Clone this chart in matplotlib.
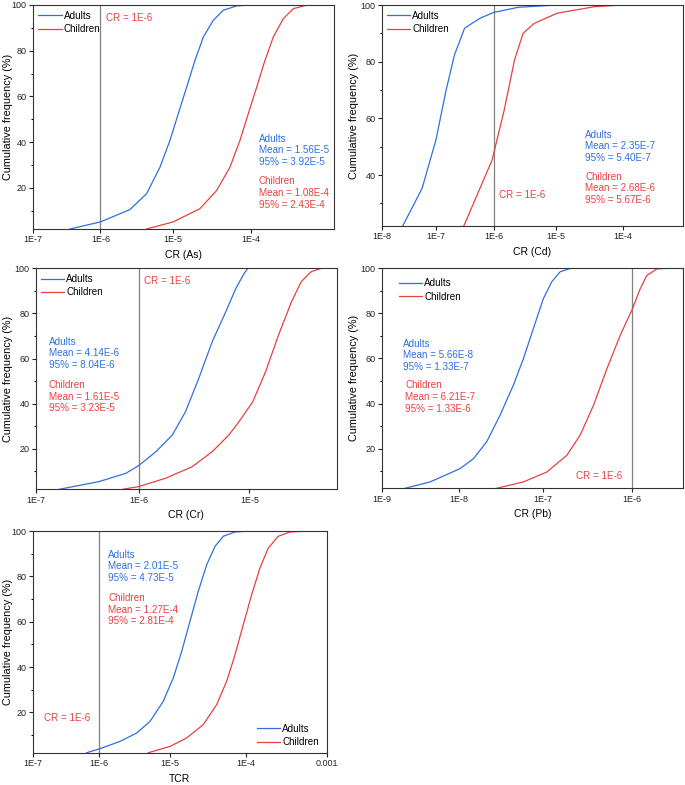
import numpy as np
import matplotlib
matplotlib.use('Agg')
import matplotlib.pyplot as plt
from matplotlib.ticker import FixedLocator

plt.rcParams['font.family'] = ['Liberation Sans', 'DejaVu Sans']

BLUE = '#2f6fe0'
RED = '#e8403f'

# ---- data: (CR value, cumulative %) ----
as_adult_x = [3.61e-7, 1e-6, 2.6e-6, 4.41e-6, 6.68e-6, 9.09e-6, 1.172e-5, 1.511e-5, 1.94e-5, 2.49e-5, 3.35e-5, 4.49e-5, 6.64e-5, 1.07e-4, 1.6e-4]
as_adult_y = [2, 5.1, 10.5, 17.5, 29.1, 40.8, 52.5, 64.1, 75.8, 86, 93.3, 97.7, 99.6, 100, 100]
as_child_x = [4.41e-6, 1e-5, 2.25e-5, 3.7e-5, 5.46e-5, 7.29e-5, 9.27e-5, 1.179e-4, 1.491e-4, 1.886e-4, 2.495e-4, 3.3e-4, 4.77e-4, 9.7e-4]
as_child_y = [2, 5.1, 10.9, 18.9, 29.1, 40.8, 52.5, 64.1, 75.8, 86, 94, 98.4, 99.9, 100]

cd_adult_x = [2.5e-8, 5.7e-8, 1.01e-7, 1.53e-7, 2.14e-7, 3.2e-7, 5.8e-7, 1e-6, 2.5e-6, 1e-5, 7e-4]
cd_adult_y = [22, 35.3, 52.4, 70, 82.4, 91.8, 95.3, 97.4, 99.2, 100, 100]
cd_child_x = [3.1e-7, 9.35e-7, 1.48e-6, 2.18e-6, 3.0e-6, 4.5e-6, 1.03e-5, 3.8e-5, 1e-4, 7e-4]
cd_child_y = [22, 45.3, 62.9, 80.6, 90, 93.5, 97.1, 99.4, 100, 100]

cr_adult_x = [1.72e-7, 4.2e-7, 7.6e-7, 1e-6, 1.45e-6, 2.05e-6, 2.7e-6, 3.56e-6, 4.7e-6, 6.2e-6, 7.6e-6, 9.0e-6, 9.7e-6]
cr_adult_y = [2, 5.4, 9.1, 12.5, 18.7, 26.1, 36.4, 51.2, 67.5, 80.8, 91.1, 97.8, 100]
cr_child_x = [7.1e-7, 1e-6, 1.78e-6, 3.1e-6, 4.7e-6, 6.6e-6, 8.1e-6, 1.07e-5, 1.38e-5, 1.78e-5, 2.3e-5, 2.78e-5, 3.37e-5, 4.1e-5, 5.5e-5]
cr_child_y = [2, 3.2, 6.9, 12, 18.7, 26.1, 32, 40.9, 54.2, 70.4, 85.2, 94.1, 98.5, 100, 100]

pb_adult_x = [2.04e-9, 4.3e-9, 1.026e-8, 1.5e-8, 2.18e-8, 3.16e-8, 4.55e-8, 5.97e-8, 7.82e-8, 1.022e-7, 1.278e-7, 1.591e-7, 2.07e-7]
pb_adult_y = [2.4, 5.2, 11.1, 15.5, 23, 34.8, 48.1, 59.8, 73.2, 86.5, 94, 98.4, 99.9]
pb_child_x = [2.88e-8, 5.97e-8, 1.119e-7, 1.897e-7, 2.68e-7, 3.78e-7, 5.32e-7, 7.44e-7, 1.013e-6, 1.227e-6, 1.448e-6, 1.852e-6, 2.56e-6, 3.5e-6]
pb_child_y = [2.4, 5.2, 9.6, 17, 25.9, 39.1, 55.3, 70.1, 82, 90.8, 96.8, 99.7, 100, 100]

tcr_adult_x = [6.68e-7, 1.05e-6, 2.04e-6, 3.51e-6, 5.39e-6, 8.21e-6, 1.124e-5, 1.46e-5, 1.886e-5, 2.43e-5, 3.14e-5, 4.03e-5, 5.17e-5, 7.32e-5, 1.14e-4]
tcr_adult_y = [2.2, 4.0, 7.2, 10.9, 16, 24.9, 35.2, 46.9, 60.2, 73.4, 85.1, 93.2, 97.7, 99.6, 100]
tcr_child_x = [5.1e-6, 1.014e-5, 1.7e-5, 2.83e-5, 4.24e-5, 5.72e-5, 7.32e-5, 9.35e-5, 1.195e-4, 1.52e-4, 1.933e-4, 2.575e-4, 3.59e-4, 6.3e-4, 1e-3]
tcr_child_y = [2.2, 5, 8.7, 14.6, 23.4, 33.7, 45.4, 58.7, 71.9, 83.7, 92.5, 97.7, 99.6, 100, 100]

xlabels = ['CR (As)', 'CR (Cd)', 'CR (Cr)', 'CR (Pb)', 'TCR']
xlims = [(1e-7, 1e-3), (1e-8, 7.2e-4), (1e-7, 5.5e-5), (1e-9, 3.5e-6), (1e-7, 1e-3)]
ylims = [(2, 100), (22, 100), (2, 100), (2.4, 100), (2.2, 100)]
xtick_vals = [[1e-7, 1e-6, 1e-5, 1e-4],
              [1e-8, 1e-7, 1e-6, 1e-5, 1e-4],
              [1e-7, 1e-6, 1e-5],
              [1e-9, 1e-8, 1e-7, 1e-6],
              [1e-7, 1e-6, 1e-5, 1e-4, 1e-3]]
xtick_labels = [['1E-7', '1E-6', '1E-5', '1E-4'],
                ['1E-8', '1E-7', '1E-6', '1E-5', '1E-4'],
                ['1E-7', '1E-6', '1E-5'],
                ['1E-9', '1E-8', '1E-7', '1E-6'],
                ['1E-7', '1E-6', '1E-5', '1E-4', '0.001']]
adult_text = [('1.56E-5', '3.92E-5'), ('2.35E-7', '5.40E-7'), ('4.14E-6', '8.04E-6'),
              ('5.66E-8', '1.33E-7'), ('2.01E-5', '4.73E-5')]
child_text = [('1.08E-4', '2.43E-4'), ('2.68E-6', '5.67E-6'), ('1.61E-5', '3.23E-5'),
              ('6.21E-7', '1.33E-6'), ('1.27E-4', '2.81E-4')]
curves = [(as_adult_x, as_adult_y, as_child_x, as_child_y),
          (cd_adult_x, cd_adult_y, cd_child_x, cd_child_y),
          (cr_adult_x, cr_adult_y, cr_child_x, cr_child_y),
          (pb_adult_x, pb_adult_y, pb_child_x, pb_child_y),
          (tcr_adult_x, tcr_adult_y, tcr_child_x, tcr_child_y)]

# layout (fig fractions) and text placement (axes fractions)
rects = [(0.0482, 0.7083, 0.4394, 0.2854),
         (0.5572, 0.7121, 0.4399, 0.2815),
         (0.0521, 0.3767, 0.4394, 0.2815),
         (0.5572, 0.3780, 0.4399, 0.2803),
         (0.0477, 0.0411, 0.4292, 0.2824)]
ylabel_x = [-0.0664, -0.0754, -0.0754, -0.0754, -0.067]
adult_pos = [(0.75, 0.425), (0.675, 0.435), (0.044, 0.69), (0.07, 0.68), (0.257, 0.915)]
child_pos = [(0.75, 0.235), (0.675, 0.245), (0.044, 0.495), (0.078, 0.49), (0.257, 0.72)]
cr_pos = [(0.243, 0.94), (0.39, 0.14), (0.36, 0.944), (0.645, 0.056), (0.04, 0.155)]
legend_loc = ['upper left', 'upper left', 'upper left', 'upper left', 'lower right']
legend_anchor = [(-0.01, 1.01), (-0.01, 1.01), (-0.01, 1.01), (0.03, 0.99), (1.0, -0.01)]

WARP = 0.04


def warped_log(x0):
    l0 = np.log10(x0)

    def fwd(x):
        u = np.log10(np.clip(x, 1e-30, None)) - l0
        return u + WARP * u * u

    def inv(w):
        u = (-1 + np.sqrt(np.clip(1 + 4 * WARP * w, 0, None))) / (2 * WARP)
        return 10 ** (u + l0)
    return fwd, inv


fig = plt.figure(figsize=(6.85, 7.85), dpi=100)

for i in range(5):
    ax = fig.add_axes(rects[i])
    ax_x, ax_y, ch_x, ch_y = curves[i]
    ax.set_xscale('function', functions=warped_log(xlims[i][0]))
    ax.plot(ax_x, ax_y, color=BLUE, lw=0.9, label='Adults')
    ax.plot(ch_x, ch_y, color=RED, lw=0.9, label='Children')
    ax.axvline(1e-6, color='#808080', lw=0.9, zorder=1)
    ax.set_xlim(*xlims[i])
    ax.set_ylim(*ylims[i])
    ax.xaxis.set_major_locator(FixedLocator(xtick_vals[i]))
    ax.set_xticklabels(xtick_labels[i])
    ax.xaxis.set_minor_locator(FixedLocator([]))
    ymaj = [v for v in [20, 40, 60, 80, 100] if v >= ylims[i][0]]
    ymin = [v for v in [10, 30, 50, 70, 90] if v >= ylims[i][0]]
    ax.yaxis.set_major_locator(FixedLocator(ymaj))
    ax.yaxis.set_minor_locator(FixedLocator(ymin))
    ax.tick_params(which='major', direction='out', length=3, width=0.8,
                   labelsize=6.5, pad=1.5, colors='#222222')
    ax.tick_params(which='minor', direction='out', length=1.8, width=0.8)
    for sp in ax.spines.values():
        sp.set_linewidth(0.8)
        sp.set_color('#333333')
    ax.set_xlabel(xlabels[i], fontsize=7.5, labelpad=4)
    ax.set_ylabel('Cumulative frequency (%)', fontsize=7.8)
    ax.yaxis.set_label_coords(ylabel_x[i], 0.5)

    ax.text(*adult_pos[i], 'Adults\nMean = %s\n95%% = %s' % adult_text[i],
            transform=ax.transAxes, color=BLUE, fontsize=7.1, va='top',
            ha='left', linespacing=1.2)
    ax.text(*child_pos[i], 'Children\nMean = %s\n95%% = %s' % child_text[i],
            transform=ax.transAxes, color=RED, fontsize=7.1, va='top',
            ha='left', linespacing=1.2)
    ax.text(*cr_pos[i], 'CR = 1E-6', transform=ax.transAxes, color=RED,
            fontsize=7.1, va='center', ha='left')
    ax.legend(loc=legend_loc[i], bbox_to_anchor=legend_anchor[i], frameon=False,
              fontsize=7.1, handlelength=2.4, handletextpad=0.2,
              labelspacing=0.35, borderpad=0.3)

fig.savefig('out.png', dpi=100)
